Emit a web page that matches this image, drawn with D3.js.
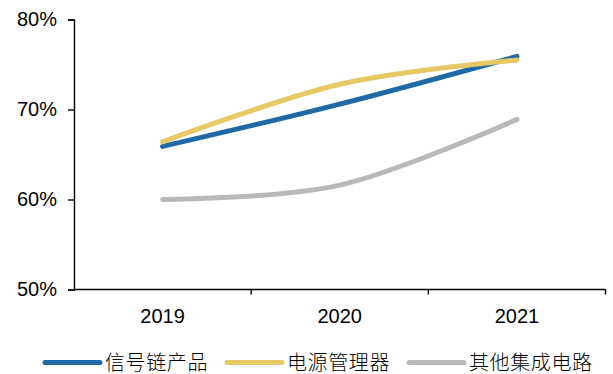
<!DOCTYPE html>
<html>
<head>
<meta charset="utf-8">
<script src="https://cdn.jsdelivr.net/npm/d3@7"></script>
<style>
  html, body { margin: 0; padding: 0; background: #fff; }
  svg { display: block; }
</style>
</head>
<body>
<svg id="chart" width="613" height="374"></svg>
<script>
// Years on the category axis
const years = ["2019", "2020", "2021"];

// Share values (%) per product group
const signalChain = [65.9, 70.6, 75.9];
const powerMgmt = [66.4, 72.8, 75.5];
const otherIC = [60.0, 61.6, 68.9];

const seriesNames = ["信号链产品", "电源管理器", "其他集成电路"];
const seriesColors = ["#1e69a6", "#e6c865", "#b9b9b9"];

// Y-axis ticks
const yTicks = [50, 60, 70, 80];

const series = [signalChain, powerMgmt, otherIC].map((values, i) => ({
  name: seriesNames[i],
  color: seriesColors[i],
  values
}));

const svg = d3.select("#chart");

const x = d3.scaleBand().domain(years).range([74, 605.5]).padding(0);
const y = d3.scaleLinear().domain([50, 80]).range([289.5, 19.5]);

const tickFont = "Liberation Sans, Arial, sans-serif";

// Y axis
const yAxis = svg.append("g")
  .attr("transform", "translate(74,0)")
  .call(d3.axisLeft(y).tickValues(yTicks).tickSize(6).tickPadding(11)
    .tickFormat(d => d + "%"));
yAxis.select(".domain").attr("stroke", "#000").attr("stroke-width", 1.4);
yAxis.selectAll(".tick line").attr("stroke", "#000").attr("stroke-width", 1.4);
yAxis.selectAll(".tick text")
  .attr("font-family", tickFont).attr("font-size", 20).attr("fill", "#000");

// X axis with ticks on category boundaries
const xAxis = svg.append("g")
  .attr("transform", "translate(0,289.5)");
xAxis.append("line")
  .attr("x1", x.range()[0]).attr("x2", x.range()[1])
  .attr("stroke", "#000").attr("stroke-width", 1.4);
const boundaries = years.map(d => x(d)).concat([x(years[years.length - 1]) + x.bandwidth()]);
xAxis.selectAll("line.tick")
  .data(boundaries.slice(1))
  .join("line")
  .attr("class", "tick")
  .attr("x1", d => d).attr("x2", d => d)
  .attr("y1", 0).attr("y2", 5)
  .attr("stroke", "#000").attr("stroke-width", 1.4);
xAxis.selectAll("text")
  .data(years)
  .join("text")
  .attr("x", d => x(d) + x.bandwidth() / 2)
  .attr("y", 33)
  .attr("text-anchor", "middle")
  .attr("font-family", tickFont)
  .attr("font-size", 20)
  .attr("fill", "#000")
  .text(d => d);

// Smoothed lines, drawn in series order
const line = d3.line()
  .x((d, i) => x(years[i]) + x.bandwidth() / 2)
  .y(d => y(d))
  .curve(d3.curveCardinal.tension(0));

svg.append("g")
  .selectAll("path")
  .data(series)
  .join("path")
  .attr("d", d => line(d.values))
  .attr("fill", "none")
  .attr("stroke", d => d.color)
  .attr("stroke-width", 5)
  .attr("stroke-linecap", "round")
  .attr("stroke-linejoin", "round");

// Legend
const legendX = [45, 227, 409];
const legend = svg.append("g").attr("transform", "translate(0,362.5)");
const items = legend.selectAll("g")
  .data(series)
  .join("g")
  .attr("transform", (d, i) => `translate(${legendX[i]},0)`);
items.append("line")
  .attr("x1", 0).attr("x2", 55)
  .attr("stroke", d => d.color)
  .attr("stroke-width", 5)
  .attr("stroke-linecap", "round");
items.append("text")
  .attr("x", 60)
  .attr("y", 7)
  .attr("font-family", "Noto Sans CJK SC, sans-serif")
  .attr("font-size", 20)
  .attr("font-weight", 300)
  .attr("letter-spacing", 0.6)
  .attr("fill", "#000")
  .text(d => d.name);
</script>
</body>
</html>
